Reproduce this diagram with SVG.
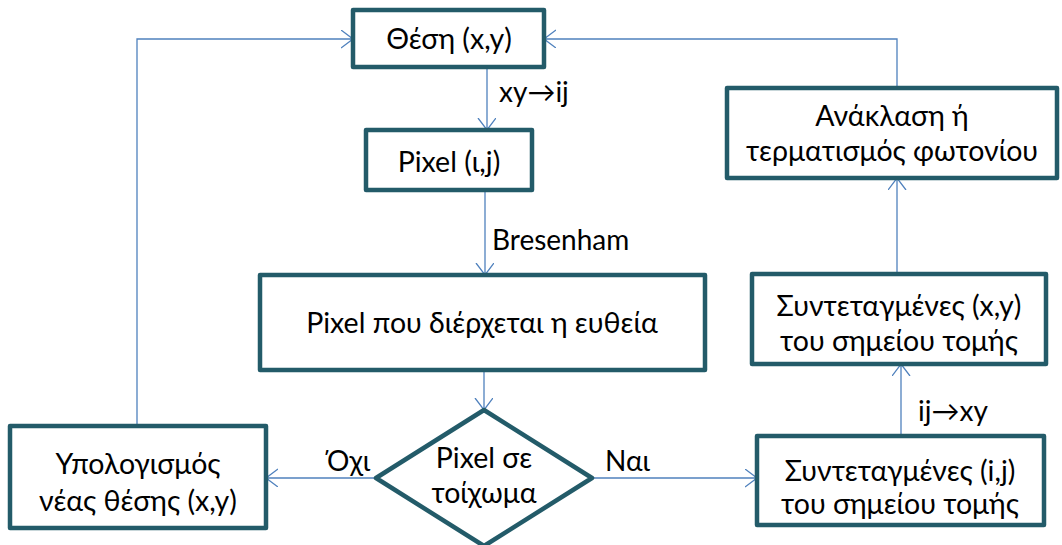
<svg xmlns="http://www.w3.org/2000/svg" width="1062" height="545" viewBox="0 0 1062 545">
<style>
.box{fill:#fff;stroke:#235B69;stroke-width:4.5;stroke-linejoin:round}
.t{font-family:Lato,"Open Sans","Liberation Sans",sans-serif;font-size:28.5px;fill:#000;text-anchor:middle}
.l{font-family:Lato,"Open Sans","Liberation Sans",sans-serif;font-size:28px;fill:#000}
.c{fill:none;stroke:#4F81BD;stroke-width:1.3}
</style>
<defs>
<marker id="a" markerUnits="userSpaceOnUse" markerWidth="16" markerHeight="20" refX="12" refY="9" orient="auto" viewBox="0 0 16 20">
<path d="M0,0 L12,9 L0,18" fill="none" stroke="#4F81BD" stroke-width="1.3"/>
</marker>
</defs>
<g id="connectors">
<path class="c" d="M487,67 V130" marker-end="url(#a)"/>
<path class="c" d="M485,190 V275" marker-end="url(#a)"/>
<path class="c" d="M484,370 V410" marker-end="url(#a)"/>
<path class="c" d="M376,478 H266" marker-end="url(#a)"/>
<path class="c" d="M592,478 H757" marker-end="url(#a)"/>
<path class="c" d="M901,436 V364" marker-end="url(#a)"/>
<path class="c" d="M897,274 V178" marker-end="url(#a)"/>
<path class="c" d="M897,88 V39 H544" marker-end="url(#a)"/>
<path class="c" d="M137,426 V39 H353" marker-end="url(#a)"/>
<text class="l" x="499" y="102">xy→ij</text>
<text class="l" x="492" y="250">Bresenham</text>
<text class="l" x="327" y="471">Όχι</text>
<text class="l" x="605" y="471">Ναι</text>
<text class="l" x="918" y="421">ij→xy</text>
</g>
<g id="n1"><rect class="box" x="353" y="10" width="191" height="57"/><text class="t" x="449" y="49">Θέση (x,y)</text></g>
<g id="n2"><rect class="box" x="366" y="130" width="166" height="60"/><text class="t" x="449" y="172">Pixel (ι,j)</text></g>
<g id="n3"><rect class="box" x="260" y="275" width="445" height="95"/><text class="t" x="482" y="333">Pixel που διέρχεται η ευθεία</text></g>
<g id="n4"><polygon class="box" points="484,410 592,478 484,546 376,478"/><text class="t" x="484" y="468">Pixel σε</text><text class="t" x="484" y="503">τοίχωμα</text></g>
<g id="n5"><rect class="box" x="10" y="426" width="256" height="102"/><text class="t" x="138" y="474">Υπολογισμός</text><text class="t" x="138" y="511">νέας θέσης (x,y)</text></g>
<g id="n6"><rect class="box" x="757" y="436" width="287" height="89"/><text class="t" x="900" y="481">Συντεταγμένες (i,j)</text><text class="t" x="900" y="514">του σημείου τομής</text></g>
<g id="n7"><rect class="box" x="752" y="274" width="294" height="90"/><text class="t" x="899" y="316">Συντεταγμένες (x,y)</text><text class="t" x="899" y="351">του σημείου τομής</text></g>
<g id="n8"><rect class="box" x="727" y="88" width="330" height="90"/><text class="t" x="892" y="126">Ανάκλαση ή</text><text class="t" x="892" y="161">τερματισμός φωτονίου</text></g>
</svg>
